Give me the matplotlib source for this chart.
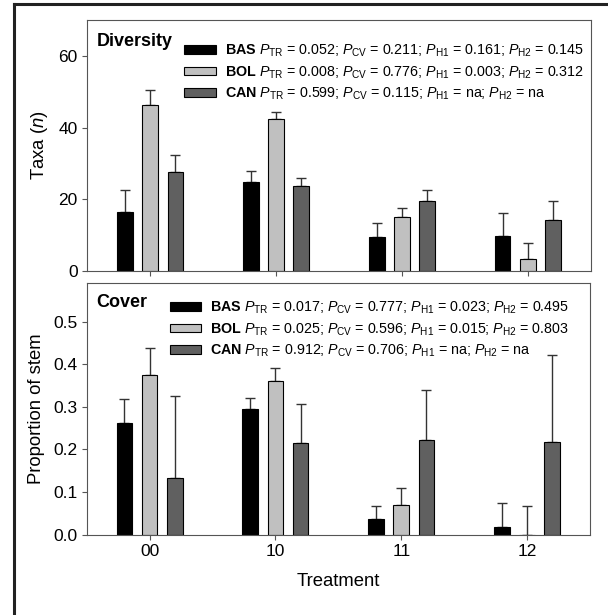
import matplotlib
matplotlib.use("Agg")
import matplotlib.pyplot as plt
from matplotlib.patches import Patch
from matplotlib.lines import Line2D
import numpy as np

plt.rcParams['font.family'] = ['Liberation Sans', 'DejaVu Sans']
plt.rcParams['mathtext.fontset'] = 'custom'
plt.rcParams['mathtext.rm'] = 'Liberation Sans'
plt.rcParams['mathtext.it'] = 'Liberation Sans:italic'
plt.rcParams['mathtext.bf'] = 'Liberation Sans:bold'

# treatments on the x axis
treatments = ['00', '10', '11', '12']
sites = ['BAS', 'BOL', 'CAN']
colors = ['#000000', '#c0c0c0', '#606060']

# Diversity: taxa (n), mean and upper SE
div_bas = [16.4, 24.9, 9.4, 9.65]
div_bol = [46.2, 42.5, 15.1, 3.3]
div_can = [27.5, 23.6, 19.4, 14.1]
div_bas_se = [6.2, 3.1, 3.95, 6.55]
div_bol_se = [4.3, 1.9, 2.6, 4.4]
div_can_se = [5.0, 2.4, 3.1, 5.4]

# Cover: proportion of stem, mean and upper SE
cov_bas = [0.263, 0.294, 0.036, 0.017]
cov_bol = [0.375, 0.361, 0.0705, 0.0]
cov_can = [0.133, 0.216, 0.222, 0.218]
cov_bas_se = [0.056, 0.027, 0.032, 0.058]
cov_bol_se = [0.062, 0.030, 0.038, 0.067]
cov_can_se = [0.192, 0.091, 0.118, 0.204]

# p-values for the legends
div_p = [('0.052', '0.211', '0.161', '0.145'),
         ('0.008', '0.776', '0.003', '0.312'),
         ('0.599', '0.115', 'na', 'na')]
cov_p = [('0.017', '0.777', '0.023', '0.495'),
         ('0.025', '0.596', '0.015', '0.803'),
         ('0.912', '0.706', 'na', 'na')]


def make_label(site, p):
    return (r"$\mathbf{%s}$ $P_{\mathrm{TR}}$ = %s; $P_{\mathrm{CV}}$ = %s; "
            r"$P_{\mathrm{H1}}$ = %s; $P_{\mathrm{H2}}$ = %s" % ((site,) + tuple(p)))


def draw_panel(ax, means, ses, pvals, title, title_y, ylabel, ylim, yticks, fmt, leg_anchor):
    x = np.arange(len(treatments))
    offsets = [-0.2, 0.0, 0.2]
    for m, s, off, c in zip(means, ses, offsets, colors):
        ax.bar(x + off, m, width=0.125, color=c, edgecolor='black', linewidth=0.8, zorder=2)
        ax.errorbar(x + off, m, yerr=[np.zeros(len(m)), s], fmt='none',
                    ecolor='#333333', elinewidth=1.0, capsize=3.3, capthick=1.0, zorder=1)
    ax.set_xlim(-0.5, 3.5)
    ax.set_ylim(*ylim)
    ax.set_yticks(yticks)
    ax.set_yticklabels([fmt % v for v in yticks])
    ax.set_xticks(x)
    ax.set_ylabel(ylabel, fontsize=13.3, labelpad=6)
    for sp in ax.spines.values():
        sp.set_color('#555555')
        sp.set_linewidth(0.8)
    ax.tick_params(axis='both', direction='out', length=3.8, width=0.8,
                   color='#555555', labelsize=12.5, pad=3)
    ax.text(0.019, title_y, title, transform=ax.transAxes, fontsize=13, fontweight='bold',
            ha='left', va='center')
    handles = [Patch(facecolor=c, edgecolor='black', linewidth=0.8) for c in colors]
    labels = [make_label(s, p) for s, p in zip(sites, pvals)]
    ax.legend(handles, labels, loc='upper left', bbox_to_anchor=leg_anchor, frameon=False,
              fontsize=10.3, handlelength=2.2, handleheight=0.55, handletextpad=0.6,
              labelspacing=0.36, borderpad=0, borderaxespad=0)


fig = plt.figure(figsize=(6.08, 6.15), dpi=100)
ax1 = fig.add_axes([0.1436, 0.5593, 0.828, 0.4081])
ax2 = fig.add_axes([0.1425, 0.1306, 0.828, 0.4088])

draw_panel(ax1, [div_bas, div_bol, div_can], [div_bas_se, div_bol_se, div_can_se], div_p,
           'Diversity', 0.913, r'Taxa ($n$)', (0, 70), [0, 20, 40, 60], '%d', (0.193, 0.91))
ax1.set_xticklabels([])

draw_panel(ax2, [cov_bas, cov_bol, cov_can], [cov_bas_se, cov_bol_se, cov_can_se], cov_p,
           'Cover', 0.923, 'Proportion of stem', (0, 0.59), [0.0, 0.1, 0.2, 0.3, 0.4, 0.5],
           '%.1f', (0.165, 0.935))
ax2.set_xticklabels(treatments)
ax2.set_xlabel('Treatment', fontsize=13.3, labelpad=10)

# outer frame of the figure
fig.add_artist(Line2D([14 / 608, 1.0], [1 - 4 / 615, 1 - 4 / 615], color='#222222',
                      linewidth=2.2, transform=fig.transFigure))
fig.add_artist(Line2D([14 / 608, 14 / 608], [0.0, 1 - 4 / 615], color='#222222',
                      linewidth=2.2, transform=fig.transFigure))

fig.savefig('out.png', dpi=100)
